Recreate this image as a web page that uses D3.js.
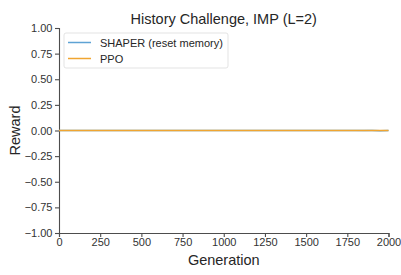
<!DOCTYPE html>
<html>
<head>
<meta charset="utf-8">
<script src="https://cdn.jsdelivr.net/npm/d3@7"></script>
<style>
  body { margin: 0; background: #fff; }
  svg { font-family: "Liberation Sans", Arial, sans-serif; }
</style>
</head>
<body>
<div id="main"></div>
<script>
const width = 401, height = 275;
const margin = {top: 28, right: 12.5, bottom: 42, left: 59};

// data
const generations = [0, 100, 200, 300, 400, 500, 600, 700, 800, 900, 1000, 1100, 1200, 1300, 1400, 1500, 1600, 1700, 1800, 1850, 1900, 1950, 2000];
const shaperReward = [0, 0, 0, 0, 0, 0, 0, 0, 0, 0, 0, 0, 0, 0, 0, 0, 0, 0, 0, -0.001, 0.001, -0.002, -0.001];
const shaperSpread = [0, 0, 0, 0, 0, 0, 0, 0, 0, 0, 0, 0, 0, 0, 0, 0, 0, 0, 0.004, 0.006, 0.006, 0.006, 0.004];
const ppoReward = [0, 0, 0, 0, 0, 0, 0, 0, 0, 0, 0, 0, 0, 0, 0, 0, 0, 0, 0, 0, 0, 0, 0];
const xTicks = [0, 250, 500, 750, 1000, 1250, 1500, 1750, 2000];
const yTicks = [-1, -0.75, -0.5, -0.25, 0, 0.25, 0.5, 0.75, 1];
const seriesNames = ["SHAPER (reset memory)", "PPO"];
const seriesColors = ["#5ea3d4", "#f0a531"];

const svg = d3.select("#main").append("svg")
    .attr("width", width)
    .attr("height", height);

const x = d3.scaleLinear().domain([0, 2000]).range([margin.left, width - margin.right]);
const y = d3.scaleLinear().domain([-1, 1]).range([height - margin.bottom, margin.top]);

const axisColor = "#4d4d4d";

const xAxis = svg.append("g")
    .attr("transform", `translate(0,${height - margin.bottom})`)
    .call(d3.axisBottom(x).tickValues(xTicks).tickSize(4).tickPadding(1).tickFormat(d3.format("d")));

const yAxis = svg.append("g")
    .attr("transform", `translate(${margin.left},0)`)
    .call(d3.axisLeft(y).tickValues(yTicks).tickSize(4).tickPadding(2.5)
        .tickFormat(d => d3.format(".2f")(d).replace("-", "\u2212")));

[xAxis, yAxis].forEach(a => {
    a.select(".domain").attr("stroke", axisColor).attr("stroke-width", 1.1);
    a.selectAll(".tick line").attr("stroke", axisColor).attr("stroke-width", 1.1);
    a.selectAll(".tick text").attr("fill", "#333").style("font-size", "11px");
});

// shaded band for SHAPER
const band = d3.area()
    .x((d, i) => x(generations[i]))
    .y0((d, i) => y(shaperReward[i] - shaperSpread[i]))
    .y1((d, i) => y(shaperReward[i] + shaperSpread[i]));

svg.append("path")
    .datum(shaperReward)
    .attr("fill", seriesColors[0])
    .attr("opacity", 0.3)
    .attr("d", band);

const line = d3.line().x((d, i) => x(generations[i])).y(d => y(d));

svg.append("path")
    .datum(shaperReward)
    .attr("fill", "none")
    .attr("stroke", seriesColors[0])
    .attr("stroke-width", 1.5)
    .attr("d", line);

svg.append("path")
    .datum(ppoReward)
    .attr("fill", "none")
    .attr("stroke", seriesColors[1])
    .attr("stroke-width", 1.5)
    .attr("d", line);

// title and labels
svg.append("text")
    .attr("x", (margin.left + width - margin.right) / 2)
    .attr("y", 24)
    .attr("text-anchor", "middle")
    .attr("fill", "#262626")
    .style("font-size", "14.5px")
    .text("History Challenge, IMP (L=2)");

svg.append("text")
    .attr("x", (margin.left + width - margin.right) / 2)
    .attr("y", 265)
    .attr("text-anchor", "middle")
    .attr("fill", "#262626")
    .style("font-size", "14.5px")
    .text("Generation");

svg.append("text")
    .attr("transform", `translate(19.5,${(margin.top + height - margin.bottom) / 2}) rotate(-90)`)
    .attr("text-anchor", "middle")
    .attr("fill", "#262626")
    .style("font-size", "14.5px")
    .text("Reward");

// legend
const legend = svg.append("g").attr("transform", "translate(64,33)");
legend.append("rect")
    .attr("width", 164)
    .attr("height", 35)
    .attr("rx", 2)
    .attr("fill", "#fff")
    .attr("fill-opacity", 0.8)
    .attr("stroke", "#dcdcdc")
    .attr("stroke-width", 0.8);

seriesNames.forEach((name, i) => {
    const g = legend.append("g").attr("transform", `translate(0,${9.5 + i * 16})`);
    g.append("line")
        .attr("x1", 4).attr("x2", 27)
        .attr("stroke", seriesColors[i])
        .attr("stroke-width", 1.5);
    g.append("text")
        .attr("x", 36)
        .attr("y", 4)
        .attr("fill", "#262626")
        .style("font-size", "11px")
        .text(name);
});
</script>
</body>
</html>
